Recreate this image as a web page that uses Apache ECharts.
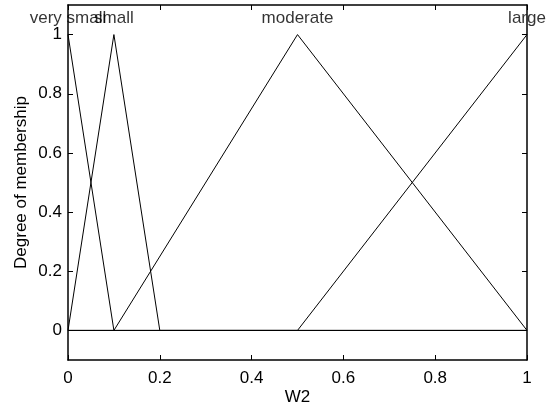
<!DOCTYPE html>
<html>
<head>
<meta charset="utf-8">
<script src="https://cdn.jsdelivr.net/npm/echarts@6/dist/echarts.min.js"></script>
<style>
  html, body { margin: 0; padding: 0; background: #fff; }
  #chart { width: 548px; height: 408px; }
</style>
</head>
<body>
<div id="chart"></div>
<script>
// membership functions of W2, sampled at their corners
var mfNames = ['very small', 'small', 'moderate', 'large'];
var verySmall = [[0, 1], [0.1, 0], [1, 0]];
var small = [[0, 0], [0.1, 1], [0.2, 0], [1, 0]];
var moderate = [[0, 0], [0.1, 0], [0.5, 1], [1, 0]];
var large = [[0, 0], [0.5, 0], [1, 1]];
var peaks = [[0, 1], [0.1, 1], [0.5, 1], [1, 1]];
var xTicks = [0, 0.2, 0.4, 0.6, 0.8, 1];
var yTicks = [0, 0.2, 0.4, 0.6, 0.8, 1];

var font = 'Liberation Sans, Arial, sans-serif';
var chart = echarts.init(document.getElementById('chart'));

function lineSeries(data) {
  return {
    type: 'line',
    data: data,
    symbol: 'none',
    silent: true,
    lineStyle: { color: '#000', width: 1 }
  };
}

// axis line / tick style shared by all four sides of the box
function boxLine() {
  return { show: true, onZero: false, lineStyle: { color: '#000', width: 1.5 } };
}
function boxTicks(vals) {
  return { show: true, inside: true, length: 5, customValues: vals, lineStyle: { color: '#000' } };
}

var option = {
  animation: false,
  grid: { left: 68, right: 21, top: 5, bottom: 48, containLabel: false, outerBoundsMode: 'none' },
  xAxis: [
    {
      type: 'value', min: 0, max: 1,
      name: 'W2', nameLocation: 'middle', nameGap: 29, nameMoveOverlap: false,
      nameTextStyle: { fontFamily: font, fontSize: 17, color: '#000' },
      axisLine: boxLine(),
      axisTick: boxTicks(xTicks),
      axisLabel: { customValues: xTicks, margin: 10, fontFamily: font, fontSize: 17, color: '#000' },
      splitLine: { show: false }
    },
    {
      type: 'value', min: 0, max: 1, position: 'top',
      axisLine: boxLine(),
      axisTick: boxTicks(xTicks),
      axisLabel: { show: false },
      splitLine: { show: false }
    }
  ],
  yAxis: [
    {
      type: 'value', min: -0.1, max: 1.1,
      name: 'Degree of membership', nameLocation: 'middle', nameGap: 38, nameMoveOverlap: false,
      nameTextStyle: { fontFamily: font, fontSize: 17, color: '#000' },
      axisLine: boxLine(),
      axisTick: boxTicks(yTicks),
      axisLabel: { customValues: yTicks, margin: 6, fontFamily: font, fontSize: 17, color: '#000' },
      splitLine: { show: false }
    },
    {
      type: 'value', min: -0.1, max: 1.1, position: 'right',
      axisLine: boxLine(),
      axisTick: boxTicks(yTicks),
      axisLabel: { show: false },
      splitLine: { show: false }
    }
  ],
  series: [
    lineSeries(verySmall),
    lineSeries(small),
    lineSeries(moderate),
    lineSeries(large),
    {
      type: 'scatter',
      symbolSize: 0,
      silent: true,
      data: peaks.map(function (p, i) { return { value: p, name: mfNames[i] }; }),
      label: {
        show: true,
        position: 'top',
        distance: 8,
        formatter: '{b}',
        fontFamily: font,
        fontSize: 17,
        color: '#000'
      }
    }
  ]
};
chart.setOption(option);
</script>
</body>
</html>
